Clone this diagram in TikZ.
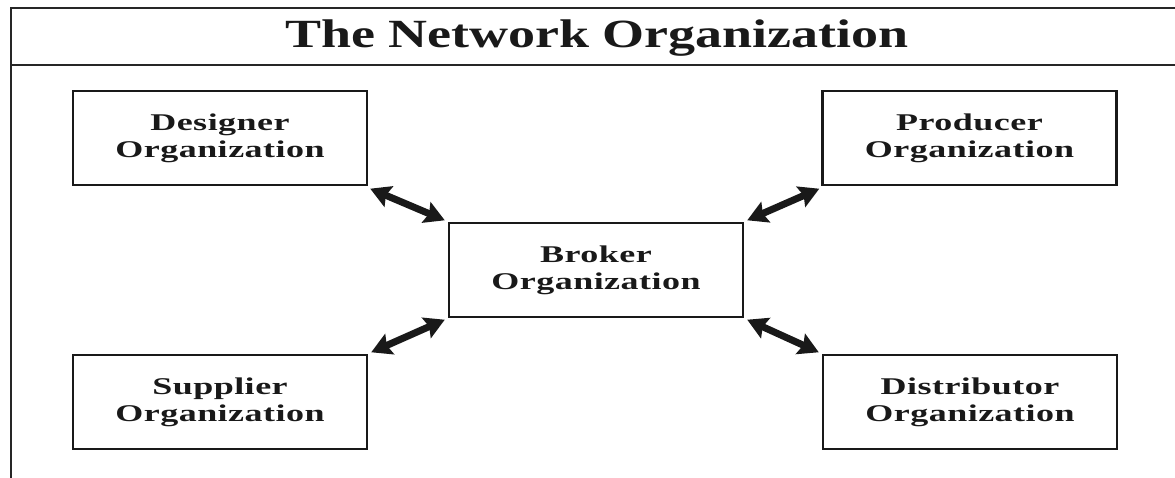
\documentclass[tikz,border=0pt]{standalone}
\usepackage{fontspec}
\setmainfont{Liberation Serif}
\newfontfamily\boxfont{Liberation Serif}[FakeStretch=1.5,LetterSpace=2]
\newfontfamily\titlefont{Liberation Serif}[FakeStretch=1.35]
\usetikzlibrary{arrows.meta}
\tikzset{
  org/.style={draw=black!90, line width=2.6pt, minimum width=294pt, minimum height=94pt,
    inner sep=0pt, align=center, font=\boxfont\bfseries\fontsize{24}{27}\selectfont, text=black!90},
  link/.style={line width=7pt, draw=black!90, {Stealth[length=20pt,width=22pt,inset=3pt]}-{Stealth[length=20pt,width=22pt,inset=3pt]}, shorten <=1pt, shorten >=1pt},
  frameline/.style={line width=2.6pt, draw=black!85}
}
\begin{document}
\begin{tikzpicture}[x=1pt,y=-1pt]
\useasboundingbox (0,0) rectangle (1175,478);
\begin{scope}
\clip (0,0) rectangle (1175,478);
\draw[frameline] (11,8) rectangle (1190,500);
\draw[frameline] (11,65) -- (1190,65);
\end{scope}
\node[font=\titlefont\bfseries\fontsize{40}{44}\selectfont, text=black!90] (title) at (597,38) {The Network Organization};
\node[org] (des) at (220,138) {Designer\\Organization};
\node[org] (pro) at (969.5,138) {Producer\\Organization};
\node[org] (bro) at (596,270) {Broker\\Organization};
\node[org] (sup) at (220,402) {Supplier\\Organization};
\node[org] (dis) at (970,402) {Distributor\\Organization};
\draw[link] ([xshift=1pt,yshift=-2pt]des.south east) -- ([xshift=-2pt,yshift=1pt]bro.north west);
\draw[link] ([xshift=-1pt,yshift=-2pt]pro.south west) -- ([xshift=2pt,yshift=1pt]bro.north east);
\draw[link] ([xshift=2pt,yshift=1pt]sup.north east) -- ([xshift=-2pt,yshift=-1pt]bro.south west);
\draw[link] ([xshift=-2pt,yshift=1pt]dis.north west) -- ([xshift=2pt,yshift=-1pt]bro.south east);
\end{tikzpicture}
\end{document}
